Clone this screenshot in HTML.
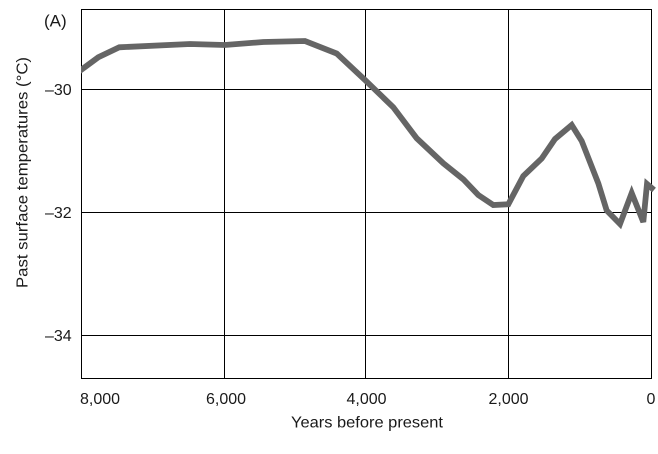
<!DOCTYPE html>
<html>
<head>
<meta charset="utf-8">
<style>
html,body{margin:0;padding:0;background:#fff;}
svg{display:block;}
text{font-family:"Liberation Sans",Arial,sans-serif;fill:#1a1a1a;}
</style>
</head>
<body>
<svg width="658" height="454" viewBox="0 0 658 454" xmlns="http://www.w3.org/2000/svg">
<rect x="0" y="0" width="658" height="454" fill="#fff"/>
<g stroke="#000" stroke-width="1.2" fill="none" shape-rendering="crispEdges">
<rect x="81.5" y="9.5" width="570" height="369"/>
<line x1="224.5" y1="9.5" x2="224.5" y2="378.5"/>
<line x1="365.5" y1="9.5" x2="365.5" y2="378.5"/>
<line x1="508.5" y1="9.5" x2="508.5" y2="378.5"/>
<line x1="81.5" y1="89.5" x2="651.5" y2="89.5"/>
<line x1="81.5" y1="212.5" x2="651.5" y2="212.5"/>
<line x1="81.5" y1="335.5" x2="651.5" y2="335.5"/>
</g>
<defs><clipPath id="c"><rect x="81" y="0" width="575" height="380"/></clipPath></defs>
<polyline clip-path="url(#c)" fill="none" stroke="#656565" stroke-width="5.8" stroke-linejoin="miter" stroke-miterlimit="3"
points="79,71.5 98.3,57.3 119.3,47.3 190,44 224.7,45 263.3,42 305,41 336.7,53.5 365,80 393.3,107.3 416.7,138.3 443.3,163.3 463.3,179.3 478.3,195 493.3,205 508.3,204.3 523.3,176 541.7,158.5 555,139 571.7,125 581.7,141 598.3,183.3 606.7,210.5 620,224 631.7,193 643.3,222 647,184 654,190"/>
<text x="44" y="26.5" font-size="17">(A)</text>
<text x="71.7" y="95" font-size="16" text-anchor="end">–30</text>
<text x="71.7" y="218" font-size="16" text-anchor="end">–32</text>
<text x="71.7" y="341" font-size="16" text-anchor="end">–34</text>
<text x="80" y="404" font-size="16">8,000</text>
<text x="226" y="404" font-size="16" text-anchor="middle">6,000</text>
<text x="366.5" y="404" font-size="16" text-anchor="middle">4,000</text>
<text x="508.5" y="404" font-size="16" text-anchor="middle">2,000</text>
<text x="651" y="404" font-size="16" text-anchor="middle">0</text>
<text x="291" y="427.3" font-size="16" textLength="152" lengthAdjust="spacingAndGlyphs">Years before present</text>
<text transform="translate(27.5,288) rotate(-90)" x="0" y="0" font-size="16" textLength="231" lengthAdjust="spacingAndGlyphs">Past surface temperatures (°C)</text>
</svg>
</body>
</html>
